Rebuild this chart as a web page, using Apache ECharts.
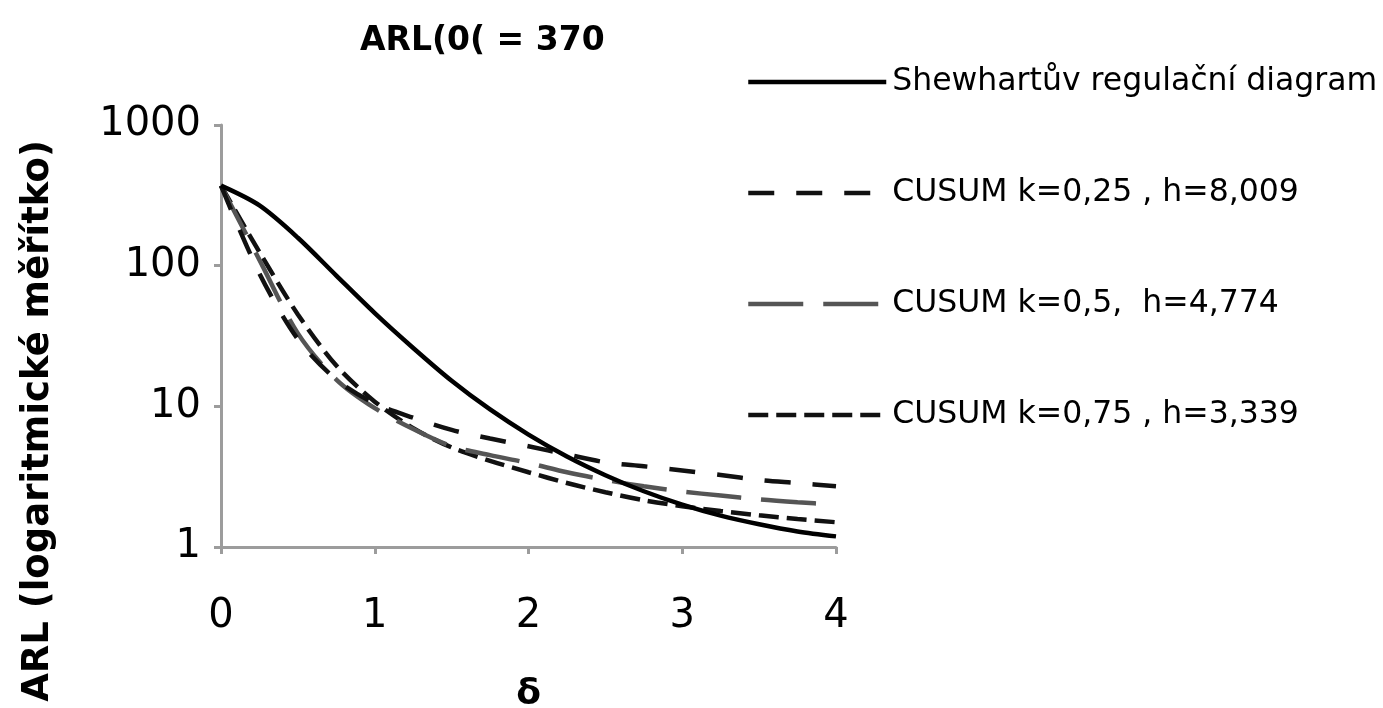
<!DOCTYPE html>
<html>
<head>
<meta charset="utf-8">
<script src="https://cdn.jsdelivr.net/npm/echarts@6/dist/echarts.min.js"></script>
<style>
html,body{margin:0;padding:0;background:#fff;}
#chart{width:1383px;height:708px;}
</style>
</head>
<body>
<div id="chart"></div>
<script>
var deltas = [0, 0.25, 0.5, 0.75, 1, 1.25, 1.5, 1.75, 2, 2.25, 2.5, 2.75, 3, 3.25, 3.5, 3.75, 4];
var shewhart = [370.4, 268, 158, 85, 46, 26, 15.2, 9.5, 6.3, 4.4, 3.24, 2.49, 2.0, 1.67, 1.45, 1.29, 1.19];
var cusumK025 = [370, 88, 30, 15.5, 10.5, 8.3, 6.8, 5.9, 5.2, 4.55, 4.0, 3.75, 3.5, 3.25, 3.0, 2.85, 2.7];
var cusumK05 = [370, 110, 33, 15.5, 9.7, 6.9, 5.2, 4.5, 3.95, 3.4, 3.0, 2.7, 2.48, 2.32, 2.18, 2.08, 2.0];
var cusumK075 = [370, 125, 45, 19.5, 10.8, 7.0, 5.1, 4.1, 3.4, 2.85, 2.45, 2.15, 1.95, 1.8, 1.68, 1.58, 1.5];
var seriesNames = ['Shewhartův regulační diagram', 'CUSUM k=0,25 , h=8,009', 'CUSUM k=0,5,  h=4,774', 'CUSUM k=0,75 , h=3,339'];
var titleText = 'ARL(0( = 370';
var yAxisTitle = 'ARL (logaritmické měřítko)';
var xAxisTitle = 'δ';

function pairs(vals) { return deltas.map(function (d, i) { return [d, vals[i]]; }); }

var styles = [
  { color: '#000000', width: 4.5, type: 'solid' },
  { color: '#111111', width: 4.5, type: [26, 22] },
  { color: '#555555', width: 4.5, type: [55, 20] },
  { color: '#111111', width: 4.5, type: [20, 8] }
];
var allData = [shewhart, cusumK025, cusumK05, cusumK075];

var chart = echarts.init(document.getElementById('chart'));
var font = 'DejaVu Sans';
chart.setOption({
  backgroundColor: '#ffffff',
  animation: false,
  title: {
    text: titleText,
    left: 355, top: 20,
    textStyle: { fontFamily: font, fontWeight: 'bold', fontSize: 33, color: '#000' }
  },
  legend: {
    orient: 'vertical',
    left: 741, top: 60,
    itemWidth: 138, itemHeight: 20,
    itemGap: 77,
    data: seriesNames,
    itemStyle: { opacity: 0 },
    lineStyle: { width: 4.5 },
    textStyle: { fontFamily: font, fontSize: 31.5, color: '#000', lineHeight: 34, padding: [0, 0, 0, 1] }
  },
  grid: { left: 221, right: 547, top: 125, bottom: 161, containLabel: false, outerBoundsMode: 'none' },
  xAxis: {
    type: 'value', min: 0, max: 4, interval: 1,
    name: xAxisTitle, nameLocation: 'middle', nameGap: 130,
    nameTextStyle: { fontFamily: font, fontWeight: 'bold', fontSize: 36, color: '#000' },
    axisLine: { lineStyle: { color: '#9c9c9c', width: 3 } },
    axisTick: { show: true, length: 7, lineStyle: { color: '#9c9c9c', width: 3 } },
    axisLabel: { fontFamily: font, fontSize: 40, color: '#000', margin: 50 },
    splitLine: { show: false }
  },
  yAxis: {
    type: 'log', logBase: 10, min: 1, max: 1000,
    axisLine: { show: true, lineStyle: { color: '#9c9c9c', width: 3 } },
    axisTick: { show: true, length: 7, lineStyle: { color: '#9c9c9c', width: 3 } },
    axisLabel: { fontFamily: font, fontSize: 40, color: '#000', margin: 20,
      formatter: function (v) { return String(Math.round(v)); } },
    splitLine: { show: false }
  },
  graphic: [{
    type: 'text',
    x: 38, y: 421,
    rotation: Math.PI / 2,
    style: {
      text: yAxisTitle,
      font: 'bold 37px "DejaVu Sans"',
      fill: '#000',
      align: 'center',
      verticalAlign: 'middle'
    }
  }],
  series: seriesNames.map(function (n, i) {
    return {
      name: n, type: 'line', data: pairs(allData[i]),
      smooth: 0.3, showSymbol: false, symbol: 'none',
      lineStyle: styles[i], itemStyle: { color: styles[i].color },
      z: 4 - i
    };
  })
});
</script>
</body>
</html>
